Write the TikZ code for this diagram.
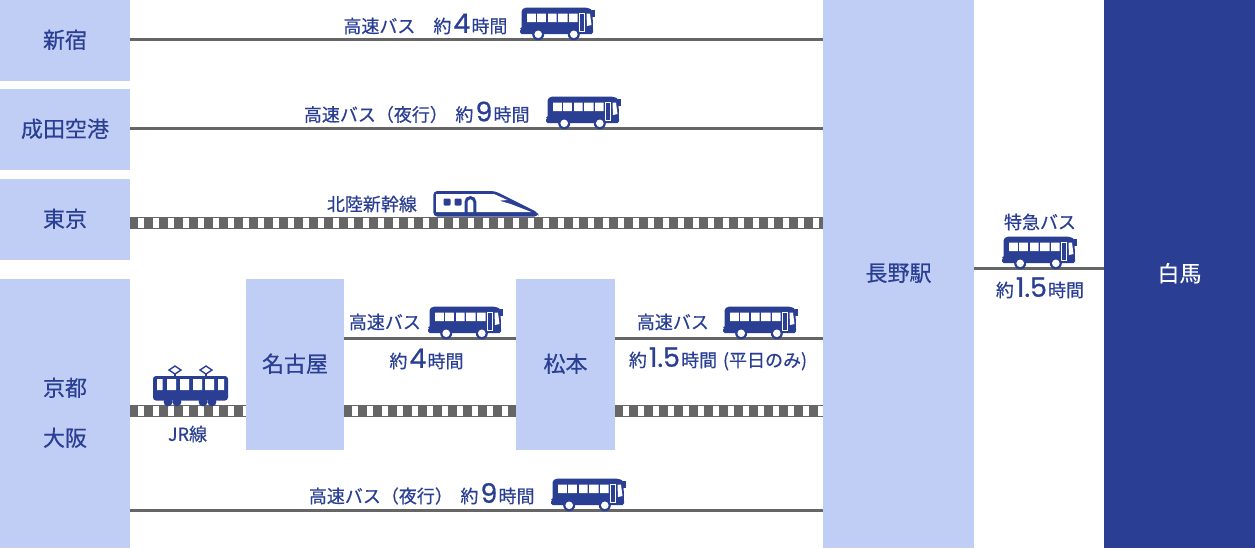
\documentclass[tikz,border=0pt]{standalone}
\usepackage{fontspec}
\setmainfont[FakeBold=0.45]{Noto Sans CJK JP}
\newfontfamily\digitfont[FakeBold=0.7]{Poppins}
\definecolor{navy}{HTML}{2A3F94}
\definecolor{pale}{HTML}{C0CDF4}
\definecolor{rail}{HTML}{666666}
\newcommand{\bignum}[1]{\hspace{1pt}\smash{\digitfont\fontsize{13.4}{13.4}\selectfont #1}\hspace{.6pt}}
\tikzset{
  stationbox/.style={fill=pale,text=navy,inner sep=0pt,font=\fontsize{11}{25}\selectfont,align=center,text depth=1.7pt},
  hakubabox/.style={stationbox,fill=navy,text=white},
  routelabel/.style={text=navy,inner sep=0pt,font=\fontsize{9}{12}\selectfont},
  busline/.style={draw=rail,line width=1.5pt},
  trackbase/.style={draw=rail,line width=5.9pt},
  trackties/.style={draw=white,line width=4.7pt,dash pattern=on 3pt off 4.5pt,dash phase=3.5pt},
  buspic/.pic={
    \fill[navy,rounded corners=.8pt] (0.5,22) -- (2,22) -- (2,3) -- (5,.7) -- (68,.7) -- (73,3) -- (73.6,27) -- (0.5,27) -- cycle;
    \fill[navy] (72.5,3) rectangle (75.8,10);
    \fill[white] (7.7,6.7) rectangle (16.3,15) (17.7,6.7) rectangle (26.3,15) (28.7,6.7) rectangle (37,15) (38.7,6.7) rectangle (48,15) (49.7,6.7) rectangle (58,15);
    \draw[white,line width=.45pt] (60,6.7) rectangle (65.3,24);
    \fill[white] (67,6.7) -- (70.5,6.7) -- (72,18) -- (67.5,19) -- cycle;
    \fill[navy] (18.7,27.3) circle (3pt) (54.3,27.3) circle (3pt);
    \fill[white] (18.7,27.3) circle (1.9pt) (54.3,27.3) circle (1.9pt);
  },
  shinkansenpic/.pic={
    \fill[navy,rounded corners=2pt] (0.3,0) -- (62,0) -- (105,21.5) -- (105.5,25.5) -- (0.3,25.5) -- cycle;
    \fill[white] (3,3) -- (61,3) -- (74.3,9) -- (66.3,9.7) -- (77.7,13) -- (98.7,21.2) -- (3,21.2) -- cycle;
    \fill[navy,rounded corners=.6pt] (10.5,7.5) rectangle (17.5,14.5) (21.5,7.5) rectangle (28.5,14.5);
    \draw[navy,line width=1.5pt] (33,22) -- (33,11) arc[start angle=180,end angle=0,radius=2.2pt] -- (41.8,22);
  },
  trampic/.pic={
    \draw[navy,line width=.6pt] (22,11) -- (22,5) (53,11) -- (53,5);
    \draw[navy,line width=.7pt,fill=white] (16,4) -- (22,0) -- (28,4) -- (22,8) -- cycle (47,4) -- (53,0) -- (59,4) -- (53,8) -- cycle;
    \fill[navy,rounded corners=1.5pt] (0,10) rectangle (75,34.5);
    \fill[white] (4,13) rectangle (9.5,24) (14,13) rectangle (23,24) (27,13) rectangle (36,24) (40,13) rectangle (49,24) (52,13) rectangle (61,24) (65,13) rectangle (71,24);
    \fill[navy] (15,36) circle (2.2pt) (24,36) circle (2.2pt) (50,36) circle (2.2pt) (59,36) circle (2.2pt);
  }
}
\begin{document}
\begin{tikzpicture}[x=.5pt,y=-.5pt]
\useasboundingbox (0,0) rectangle (1255,548);
\fill[white] (0,0) rectangle (1255,548);
% stations
\node[stationbox,minimum width=65pt,minimum height=40.5pt] (shinjuku) at (65,40.5) {新宿};
\node[stationbox,minimum width=65pt,minimum height=40.5pt] (narita) at (65,129.5) {成田空港};
\node[stationbox,minimum width=65pt,minimum height=40.5pt] (tokyo) at (65,219.5) {東京};
\node[stationbox,minimum width=65pt,minimum height=134.5pt] (kansai) at (65,413.5) {京都\\大阪};
\node[stationbox,minimum width=49pt,minimum height=85.5pt] (nagoya) at (295,364.5) {名古屋};
\node[stationbox,minimum width=49.5pt,minimum height=85.5pt] (matsumoto) at (565.5,364.5) {松本};
\node[stationbox,minimum width=75.5pt,minimum height=274pt] (nagano) at (898.5,274) {長野駅};
\node[hakubabox,minimum width=75.5pt,minimum height=274pt] (hakuba) at (1179.5,274) {白馬};
% connectors
\draw[busline] (shinjuku.east |- 0,39.5) -- (nagano.west |- 0,39.5);
\draw[busline] (narita.east |- 0,128.5) -- (nagano.west |- 0,128.5);
\draw[busline] (kansai.east |- 0,510) -- (nagano.west |- 0,510);
\draw[busline] (nagoya.east |- 0,338.5) -- (matsumoto.west |- 0,338.5);
\draw[busline] (matsumoto.east |- 0,338.5) -- (nagano.west |- 0,338.5);
\draw[busline] (nagano.east |- 0,268.5) -- (hakuba.west |- 0,268.5);
\foreach \a/\b/\y in {tokyo/nagano/222.8,kansai/nagoya/410.8,nagoya/matsumoto/410.8,matsumoto/nagano/410.8}{
  \draw[trackbase] (\a.east |- 0,\y) -- (\b.west |- 0,\y);
  \draw[trackties] (\a.east |- 0,\y) -- (\b.west |- 0,\y);
}
% vehicles
\pic at (519.5,7) {buspic};
\pic at (545.5,96) {buspic};
\pic at (550.5,478) {buspic};
\pic at (1001.5,236) {buspic};
\pic at (427.5,306) {buspic};
\pic at (722.5,306) {buspic};
\pic at (433,191) {shinkansenpic};
\pic at (153,366) {trampic};
% labels
\node[routelabel,anchor=west] (l1) at (343,26) {高速バス\hspace{1em}約\bignum{4}時間};
\node[routelabel,anchor=west] (l2) at (303.5,114.5) {高速バス（夜行）\hspace{.42em}約\bignum{9}時間};
\node[routelabel,anchor=west] (l3) at (326.5,204) {北陸新幹線};
\node[routelabel] (l4) at (1040,222) {特急バス};
\node[routelabel] (l5) at (1040,290) {約\bignum{1.5}時間};
\node[routelabel,anchor=west] (l6) at (348.5,322) {高速バス};
\node[routelabel] (l7) at (426.5,361) {約\bignum{4}時間};
\node[routelabel,anchor=west] (l8) at (636.5,322) {高速バス};
\node[routelabel,anchor=west] (l9) at (628.5,361) {約\bignum{1.5}時間 \hspace{.1em}(平日のみ)};
\node[routelabel] (l10) at (187.5,434) {JR線};
\node[routelabel,anchor=west] (l11) at (308.5,496) {高速バス（夜行）\hspace{.42em}約\bignum{9}時間};
\end{tikzpicture}
\end{document}
